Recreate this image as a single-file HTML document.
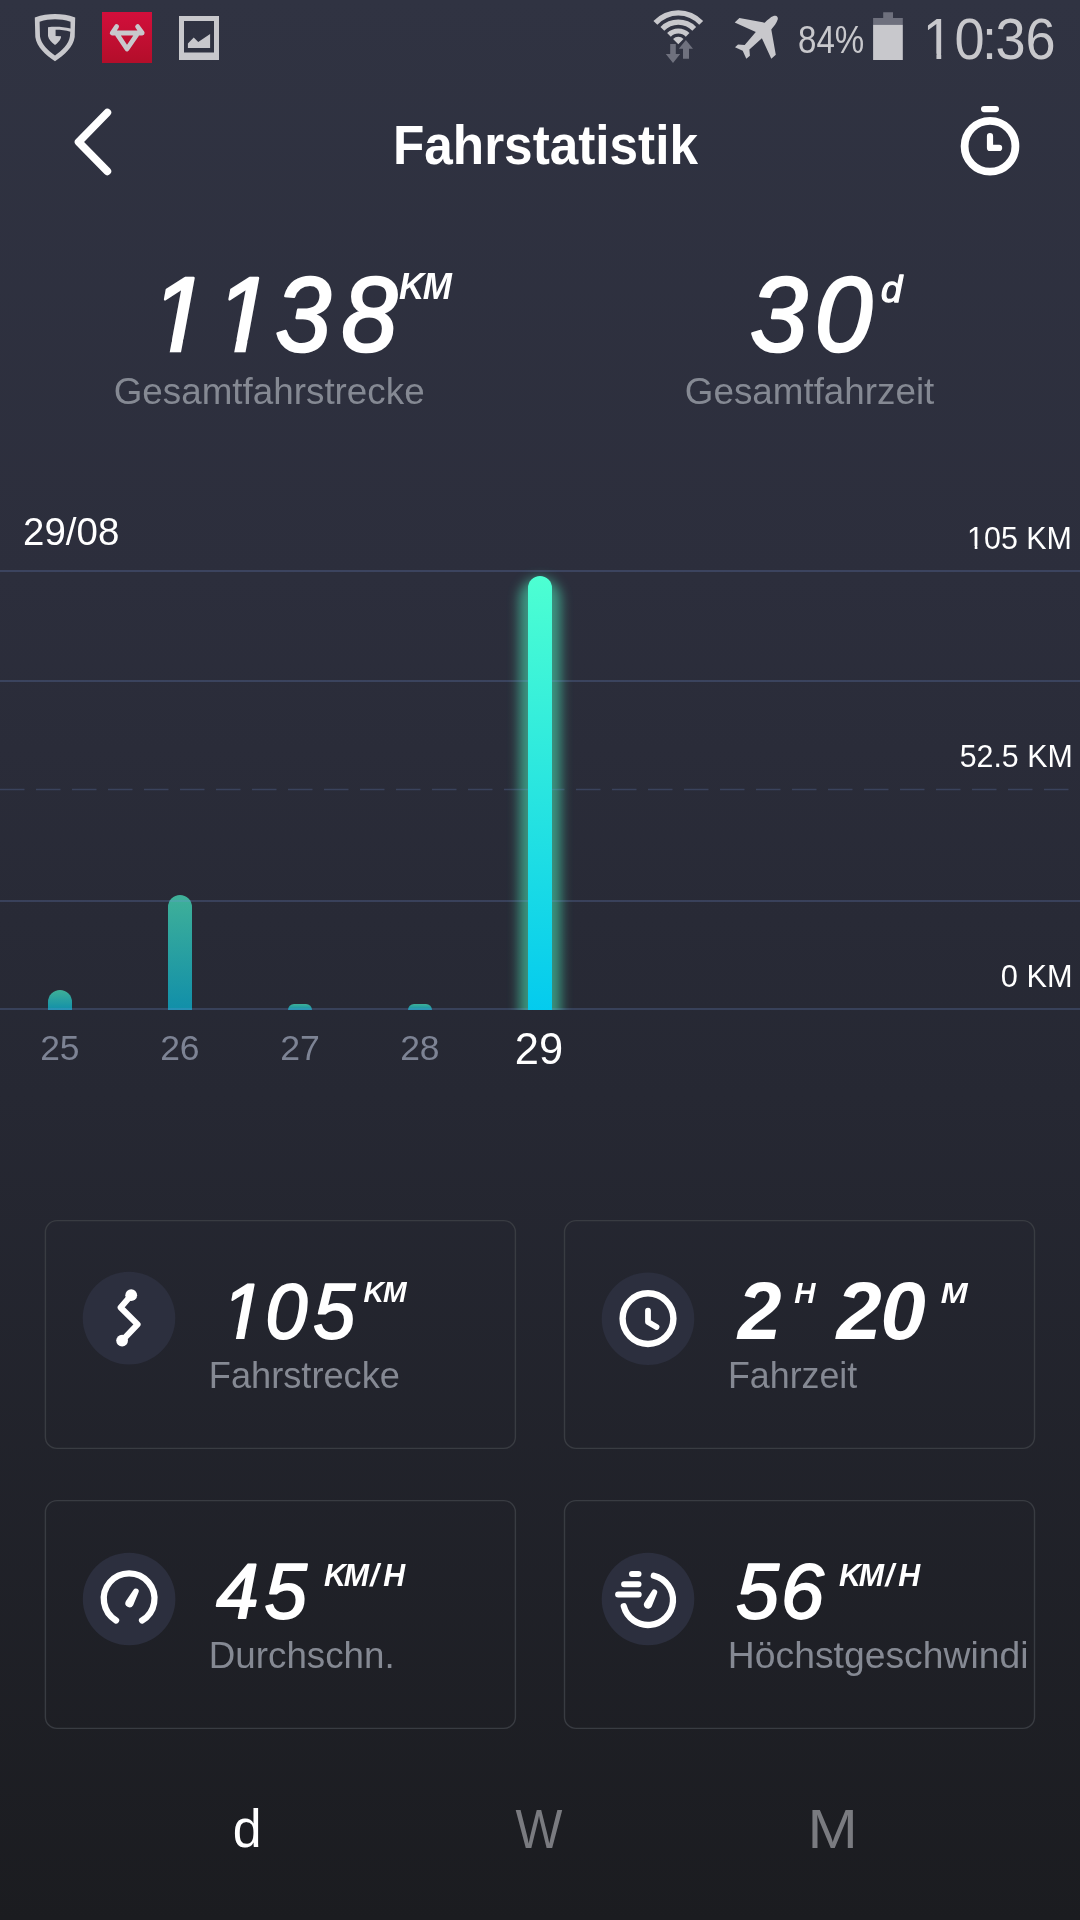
<!DOCTYPE html>
<html lang="de"><head><meta charset="utf-8"><title>Fahrstatistik</title>
<style>html,body{margin:0;padding:0;background:#1b1c20;}body{width:1080px;height:1920px;overflow:hidden;}svg{display:block;will-change:transform;}</style>
</head><body>
<svg width="1080" height="1920" viewBox="0 0 1080 1920" font-family="'Liberation Sans', Arial, sans-serif">
<defs><linearGradient id="bg" x1="0" y1="0" x2="0" y2="1">
 <stop offset="0" stop-color="#303342"/>
 <stop offset="0.3" stop-color="#2c2e3c"/>
 <stop offset="0.57" stop-color="#262833"/>
 <stop offset="1" stop-color="#1b1c20"/>
</linearGradient>
<linearGradient id="bar" x1="0" y1="0" x2="0" y2="1">
 <stop offset="0" stop-color="#4dffd2"/>
 <stop offset="1" stop-color="#04cbee"/>
</linearGradient>
<linearGradient id="red" x1="0" y1="0" x2="0" y2="1">
 <stop offset="0" stop-color="#d20f3b"/>
 <stop offset="1" stop-color="#b30e2a"/>
</linearGradient>
<filter id="glow" x="-3" y="-0.2" width="7" height="1.4"><feGaussianBlur stdDeviation="6"/></filter>
<clipPath id="chartclip"><rect x="0" y="500" width="1080" height="510"/></clipPath>
<mask id="m1" maskUnits="userSpaceOnUse" x="0" y="0" width="1080" height="1920"><rect x="0" y="0" width="1080" height="1920" fill="#fff"/><g transform="matrix(0.9548,0,0,1,0.00,59.04)" fill="#000"><polygon points="965.31,1.66 980.78,1.66 980.78,-5.34 965.31,-5.34"/><polygon points="985.79,1.66 1000.82,1.66 1000.82,-5.34 985.79,-5.34"/></g></mask>
<mask id="m2" maskUnits="userSpaceOnUse" x="0" y="0" width="1080" height="1920"><rect x="0" y="0" width="1080" height="1920" fill="#fff"/><g transform="matrix(0.9539,0,0,1,0.00,350.60)" fill="#000"><polygon points="150.83,4.38 177.38,4.38 180.40,-11.20 150.83,-11.20"/><polygon points="189.26,4.38 218.20,4.38 218.20,-11.20 192.29,-11.20"/><polygon points="218.45,4.38 244.99,4.38 248.02,-11.20 218.45,-11.20"/><polygon points="256.88,4.38 285.82,4.38 285.82,-11.20 259.91,-11.20"/></g></mask>
<mask id="m3" maskUnits="userSpaceOnUse" x="0" y="0" width="1080" height="1920"><rect x="0" y="0" width="1080" height="1920" fill="#fff"/><g transform="matrix(0.9778,0,0,1,967.07,548.90)" fill="#000"><polygon points="-0.67,0.91 7.82,0.91 7.82,-2.93 -0.67,-2.93"/><polygon points="10.57,0.91 18.82,0.91 18.82,-2.93 10.57,-2.93"/></g></mask>
<mask id="m4" maskUnits="userSpaceOnUse" x="0" y="0" width="1080" height="1920"><rect x="0" y="0" width="1080" height="1920" fill="#fff"/><g transform="matrix(0.9661,0,0,1,0.00,1337.93)" fill="#000"><polygon points="224.01,3.25 243.72,3.25 245.97,-8.32 224.01,-8.32"/><polygon points="252.54,3.25 274.03,3.25 274.03,-8.32 254.79,-8.32"/></g></mask></defs>
<rect x="0" y="0" width="1080" height="1920" fill="url(#bg)"/>
<path fill="#c8c8cc" fill-rule="evenodd" d="M34.8,17.6 C42,14.8 48,14.1 55,14.1 C62,14.1 68,14.8 75.2,17.6 L74.7,37 C73.2,47 64.5,55 55,61.2 C45.5,55 36.8,47 35.3,37 Z
 M39.6,21.8 C45,20 50,19.3 55,19.3 C60,19.3 65,20 70.5,21.8 L70.5,28.6 C63,26.6 55,26.4 48,27.2 L48,36 C48.5,39 51,42 55,45 C59,42 61.3,38.5 61,36.2 L55.6,36 L55.6,29.8 C61,29.8 66,30.4 70.3,31.8 L69.9,36.5 C68.8,44 62,50.5 55,55.4 C48,50.5 41.2,44 40,36.5 Z"/>
<rect x="102" y="12" width="50" height="51" fill="url(#red)"/>
<path d="M116.6,26.6 L112.2,33 H142.2 L137.6,26.6 M117.4,34.6 L127,49 L136.8,34.6" fill="none" stroke="#c8c8cc" stroke-width="4.8" stroke-linejoin="round" stroke-linecap="round"/>
<path fill="#c8c8cc" fill-rule="evenodd" d="M179,16 H219 V60 H179 Z M184,21 V52.5 H214 V21 Z"/>
<path fill="#c8c8cc" d="M187.9,48 L187.9,43.5 L193.75,37.5 L198.25,42 L210.1,34 L210.1,48 Z"/>
<path fill="#c8c8cc" d="M678.3,44.2 L673.07,38.97 A7.4,7.4 0 0 1 683.53,38.97 Z M667.13,33.03 A15.8,15.8 0 0 1 689.47,33.03 L685.80,36.70 A10.6,10.6 0 0 0 670.80,36.70 Z M660.46,26.97 A24.8,24.8 0 0 1 696.14,26.97 L692.33,30.65 A19.5,19.5 0 0 0 664.27,30.65 Z M653.43,21.01 A34,34 0 0 1 703.17,21.01 L699.22,24.69 A28.6,28.6 0 0 0 657.38,24.69 Z"/>
<path fill="#6f717e" d="M670.2,44 H675.8 V54 H680.2 L673,62.9 L665.8,54 H670.2 Z M685.9,40 L693,48.8 H689 V58.8 H683 V48.8 H678.8 Z"/>
<path fill="#c8c8cc" d="M775.5,15.8 C777.5,16.2 778.3,18 777.6,19.8 C776.5,23 774,26.5 771.3,29.4 L775.8,54.7 L771.3,58.8 L761.9,38.3 L749.4,49.4 L749.9,55.8 L746.3,58.8 L742.7,50.8 L735,47.2 L738,44.4 L744.7,44.9 L755.8,31.9 L734.7,22.6 L739.4,18 L764.7,22.7 C767.5,19.8 771,16.8 773,16.2 C773.8,15.9 774.7,15.7 775.5,15.8 Z"/>
<path fill="#6e707d" d="M883.2,12.2 H893 V18.1 H902.8 V24.9 H873.1 V18.1 H883.2 Z"/>
<rect x="873.1" y="24.9" width="29.7" height="35.1" fill="#c8c8cc"/>
<text transform="matrix(0.8688,0,0,1,798.06,52.50)" x="0.00 21.18 42.36" y="0" font-size="38.08" font-weight="400" font-style="normal" fill="#c8c8cc">84%</text>
<g mask="url(#m1)"><text transform="matrix(0.9548,0,0,1,0.00,59.04)" x="966.52 999.72 1028.39 1042.61 1074.05" y="0" font-size="56.69" font-weight="400" font-style="normal" fill="#c8c8cc">10:36</text></g>
<path d="M107.3,112.6 L78.6,142 L107.3,171.3" fill="none" stroke="#ffffff" stroke-width="7.8" stroke-linecap="round" stroke-linejoin="round"/>
<text transform="matrix(0.9118,0,0,1,392.97,163.90)" x="0.00 34.36 65.64 100.00 121.90 153.18 171.91 203.20 221.93 237.56 268.84 287.57 303.20" y="0" font-size="56.25" font-weight="700" font-style="normal" fill="#ffffff">Fahrstatistik</text>
<circle cx="990" cy="146.3" r="25.4" fill="none" stroke="#ffffff" stroke-width="7.8"/>
<path d="M984.1,109.1 H995.9" stroke="#ffffff" stroke-width="6.2" stroke-linecap="round"/>
<path d="M990,136.2 V147.9 H999.1" fill="none" stroke="#ffffff" stroke-width="6.2" stroke-linecap="round" stroke-linejoin="round"/>
<g mask="url(#m2)"><text transform="matrix(0.9539,0,0,1,0.00,350.60)" x="158.37 225.99 288.60 358.11" y="0" font-size="105.09" font-weight="400" font-style="italic" fill="#ffffff" stroke="#ffffff" stroke-width="2.60" stroke-linejoin="round">1138</text></g>
<text transform="matrix(0.9274,0,0,1,0.00,299.00)" x="430.12 455.78" y="0" font-size="37.65" font-weight="700" font-style="italic" fill="#ffffff">KM</text>
<text transform="matrix(0.9929,0,0,1,113.75,404.40)" x="0.00 28.83 49.44 67.98 88.59 119.46 129.76 140.06 160.67 181.29 193.63 212.16 222.46 234.80 255.42 273.95 292.48" y="0" font-size="37.06" font-weight="400" font-style="normal" fill="#858993">Gesamtfahrstrecke</text>
<text transform="matrix(0.9850,0,0,1,0.00,350.60)" x="761.54 827.05" y="0" font-size="105.09" font-weight="400" font-style="italic" fill="#ffffff" stroke="#ffffff" stroke-width="2.60" stroke-linejoin="round">30</text>
<text transform="matrix(1.0386,0,0,1,881.09,301.65)" x="0.00" y="0" font-size="36.75" font-weight="400" font-style="italic" fill="#ffffff" stroke="#ffffff" stroke-width="1.30" stroke-linejoin="round">d</text>
<text transform="matrix(0.9925,0,0,1,684.85,404.00)" x="0.00 28.83 49.44 67.98 88.59 119.46 129.76 140.06 160.67 181.29 193.63 212.16 232.78 241.01" y="0" font-size="37.06" font-weight="400" font-style="normal" fill="#858993">Gesamtfahrzeit</text>
<text transform="matrix(0.9981,0,0,1,23.07,545.40)" x="0.00 21.42 42.84 53.55 74.97" y="0" font-size="38.52" font-weight="400" font-style="normal" fill="#ffffff">29/08</text>
<path d="M48,1010 V1002 A12,12 0 0 1 60,990 H60 A12,12 0 0 1 72,1002 V1010 Z" fill="url(#bar)" opacity="0.63"/>
<path d="M168,1010 V907 A12,12 0 0 1 180,895 H180 A12,12 0 0 1 192,907 V1010 Z" fill="url(#bar)" opacity="0.63"/>
<path d="M288,1010 V1010 A6,6 0 0 1 294,1004 H306 A6,6 0 0 1 312,1010 V1010 Z" fill="url(#bar)" opacity="0.63"/>
<path d="M408,1010 V1010 A6,6 0 0 1 414,1004 H426 A6,6 0 0 1 432,1010 V1010 Z" fill="url(#bar)" opacity="0.63"/>
<g clip-path="url(#chartclip)"><rect x="519" y="578" width="42" height="460" rx="21" fill="#4dffc8" opacity="0.5" filter="url(#glow)"/></g>
<rect x="0" y="570" width="1080" height="2" fill="rgba(120,150,225,0.22)"/>
<rect x="0" y="680" width="1080" height="2" fill="rgba(120,150,225,0.22)"/>
<rect x="0" y="900" width="1080" height="2" fill="rgba(120,150,225,0.22)"/>
<rect x="0" y="1008" width="1080" height="2" fill="rgba(120,150,225,0.22)"/>
<path d="M0,789.5 H1070" stroke="rgba(120,150,225,0.22)" stroke-width="1.3" stroke-dasharray="24.5 11.5"/>
<path d="M528,1010 V588 A12,12 0 0 1 552,588 V1010 Z" fill="url(#bar)"/>
<g mask="url(#m3)"><text transform="matrix(0.9778,0,0,1,967.07,548.90)" x="0.00 17.30 34.60 51.90 60.54 81.29" y="0" font-size="31.11" font-weight="400" font-style="normal" fill="#ffffff">105 KM</text></g>
<text transform="matrix(0.9755,0,0,1,959.69,766.90)" x="0.00 17.30 34.60 43.24 60.54 69.18 89.93" y="0" font-size="31.11" font-weight="400" font-style="normal" fill="#ffffff">52.5 KM</text>
<text transform="matrix(0.9879,0,0,1,1000.80,986.90)" x="0.00 17.30 25.94 46.69" y="0" font-size="31.11" font-weight="400" font-style="normal" fill="#ffffff">0 KM</text>
<text transform="matrix(1.0062,0,0,1,40.17,1060.30)" x="0.00 19.56" y="0" font-size="35.18" font-weight="400" font-style="normal" fill="#7d8394">25</text>
<text transform="matrix(1.0081,0,0,1,160.17,1060.30)" x="0.00 19.56" y="0" font-size="35.18" font-weight="400" font-style="normal" fill="#7d8394">26</text>
<text transform="matrix(1.0144,0,0,1,280.16,1060.30)" x="0.00 19.56" y="0" font-size="35.18" font-weight="400" font-style="normal" fill="#7d8394">27</text>
<text transform="matrix(1.0076,0,0,1,400.17,1060.30)" x="0.00 19.56" y="0" font-size="35.18" font-weight="400" font-style="normal" fill="#7d8394">28</text>
<text transform="matrix(0.9901,0,0,1,514.81,1064.40)" x="0.00 24.41" y="0" font-size="43.90" font-weight="400" font-style="normal" fill="#ffffff">29</text>
<rect x="45.4" y="1220.6" width="470" height="227.8" rx="11.5" fill="none" stroke="#393c42" stroke-width="1.4"/>
<rect x="564.5" y="1220.6" width="470" height="227.8" rx="11.5" fill="none" stroke="#393c42" stroke-width="1.4"/>
<rect x="45.4" y="1500.6" width="470" height="227.8" rx="11.5" fill="none" stroke="#393c42" stroke-width="1.4"/>
<rect x="564.5" y="1500.6" width="470" height="227.8" rx="11.5" fill="none" stroke="#393c42" stroke-width="1.4"/>
<circle cx="129" cy="1318.1" r="46.3" fill="#2c2f3e"/>
<circle cx="648" cy="1318.7" r="46.3" fill="#2c2f3e"/>
<circle cx="129.1" cy="1599" r="46.3" fill="#2c2f3e"/>
<circle cx="648" cy="1599" r="46.3" fill="#2c2f3e"/>
<path d="M131.2,1295.2 L120.6,1307.5 L137.6,1324.4 L122.1,1340.6" fill="none" stroke="#ffffff" stroke-width="6" stroke-linejoin="round"/>
<circle cx="131.2" cy="1295.2" r="5.9" fill="#ffffff"/><circle cx="122.1" cy="1340.6" r="5.9" fill="#ffffff"/>
<circle cx="648" cy="1318.6" r="25.4" fill="none" stroke="#ffffff" stroke-width="6.4"/>
<path d="M648,1310.6 V1322 L656.5,1327" fill="none" stroke="#ffffff" stroke-width="5.8" stroke-linecap="round" stroke-linejoin="round"/>
<path d="M116.08,1620.45 A25.35,25.35 0 1 1 142.04,1620.50" fill="none" stroke="#ffffff" stroke-width="6.3" stroke-linecap="round"/>
<path d="M133.19,1605.20 L138.46,1592.53 A2.8,2.8 0 0 0 133.54,1589.87 L125.81,1601.20 A4.2,4.2 0 0 0 133.19,1605.20 Z" fill="#ffffff"/>
<path d="M653.84,1575.69 A25,25 0 1 1 623.80,1606.26" fill="none" stroke="#ffffff" stroke-width="6.3" stroke-linecap="round"/>
<path d="M632,1573.9 H638.5 M624.1,1584.3 H638.5 M618.1,1594.6 H638.7" stroke="#ffffff" stroke-width="6" stroke-linecap="round"/>
<path d="M651.73,1606.54 L656.98,1593.39 A2.8,2.8 0 0 0 652.02,1590.81 L644.27,1602.66 A4.2,4.2 0 0 0 651.73,1606.54 Z" fill="#ffffff"/>
<g mask="url(#m4)"><text transform="matrix(0.9661,0,0,1,0.00,1337.93)" x="229.61 274.77 324.23" y="0" font-size="78.01" font-weight="400" font-style="italic" fill="#ffffff" stroke="#ffffff" stroke-width="1.93" stroke-linejoin="round">105</text></g>
<text transform="matrix(0.9382,0,0,1,0.00,1301.90)" x="387.55 408.12" y="0" font-size="30.23" font-weight="700" font-style="italic" fill="#ffffff">KM</text>
<text transform="matrix(0.9765,0,0,1,208.83,1388.40)" x="0.00 22.64 43.25 63.87 76.21 94.74 105.04 117.38 138.00 156.53 175.06" y="0" font-size="37.06" font-weight="400" font-style="normal" fill="#858993">Fahrstrecke</text>
<text transform="matrix(0.9740,0,0,1,737.83,1339.10)" x="0.00" y="0" font-size="80.82" font-weight="700" font-style="italic" fill="#ffffff">2</text>
<text transform="matrix(0.9670,0,0,1,794.28,1302.50)" x="0.00" y="0" font-size="30.38" font-weight="700" font-style="italic" fill="#ffffff">H</text>
<text transform="matrix(1.0060,0,0,1,0.00,1339.10)" x="831.60 875.30" y="0" font-size="80.82" font-weight="700" font-style="italic" fill="#ffffff">20</text>
<text transform="matrix(1.0630,0,0,1,940.63,1302.50)" x="0.00" y="0" font-size="30.38" font-weight="700" font-style="italic" fill="#ffffff">M</text>
<text transform="matrix(0.9657,0,0,1,727.96,1388.40)" x="0.00 22.64 43.25 63.87 76.21 94.74 115.36 123.59" y="0" font-size="37.06" font-weight="400" font-style="normal" fill="#858993">Fahrzeit</text>
<text transform="matrix(0.9766,0,0,1,0.00,1617.93)" x="221.33 270.86" y="0" font-size="78.01" font-weight="400" font-style="italic" fill="#ffffff" stroke="#ffffff" stroke-width="1.93" stroke-linejoin="round">45</text>
<text transform="matrix(0.9744,0,0,1,0.00,1585.80)" x="332.57 352.68 380.04 393.27" y="0" font-size="31.11" font-weight="700" font-style="italic" fill="#ffffff">KM/H</text>
<text transform="matrix(0.9915,0,0,1,208.79,1668.40)" x="0.00 26.77 47.38 59.72 78.26 98.87 117.40 135.93 156.55 177.16" y="0" font-size="37.06" font-weight="400" font-style="normal" fill="#858993">Durchschn.</text>
<text transform="matrix(0.9882,0,0,1,0.00,1617.93)" x="744.68 790.22" y="0" font-size="78.01" font-weight="400" font-style="italic" fill="#ffffff" stroke="#ffffff" stroke-width="1.93" stroke-linejoin="round">56</text>
<text transform="matrix(0.9744,0,0,1,0.00,1585.80)" x="861.18 881.29 908.65 921.88" y="0" font-size="31.11" font-weight="700" font-style="italic" fill="#ffffff">KM/H</text>
<text transform="matrix(1.0065,0,0,1,727.84,1668.40)" x="0.00 26.77 47.38 65.91 86.53 105.06 115.36 135.97 156.58 175.12 193.65 214.26 241.03 249.26 269.88 290.49" y="0" font-size="37.06" font-weight="400" font-style="normal" fill="#858993">Höchstgeschwindi</text>
<text transform="matrix(0.9676,0,0,1,232.82,1847.10)" x="0.00" y="0" font-size="53.55" font-weight="400" font-style="normal" fill="#ffffff">d</text>
<text transform="matrix(0.8854,0,0,1,515.58,1848.00)" x="0.00" y="0" font-size="56.11" font-weight="400" font-style="normal" fill="#7a7b80">W</text>
<text transform="matrix(1.0764,0,0,1,807.55,1848.00)" x="0.00" y="0" font-size="56.11" font-weight="400" font-style="normal" fill="#7a7b80">M</text>
</svg>
</body></html>
